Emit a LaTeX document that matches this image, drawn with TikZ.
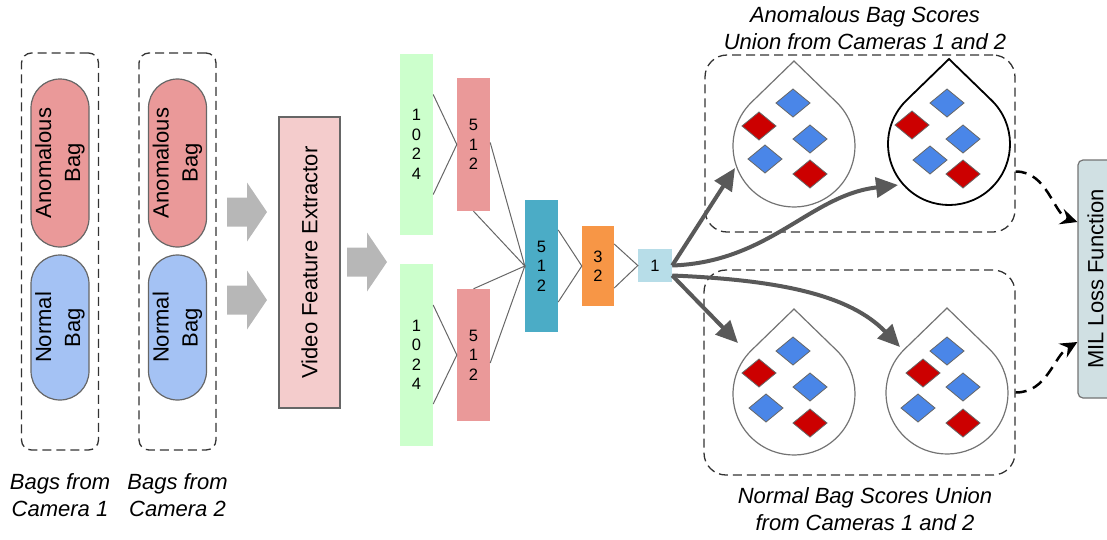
\documentclass[tikz,border=0pt]{standalone}
\usepackage{fontspec}
\setmainfont{Liberation Sans}
\usetikzlibrary{positioning, arrows.meta}

\definecolor{bagred}{HTML}{EA9999}
\definecolor{bagblue}{HTML}{A4C2F4}
\definecolor{extpink}{HTML}{F4CCCC}
\definecolor{layergreen}{HTML}{CCFFCC}
\definecolor{layerblue}{HTML}{4BACC6}
\definecolor{layerorange}{HTML}{F79646}
\definecolor{layercyan}{HTML}{B7DDE8}
\definecolor{arrowgray}{HTML}{B7B7B7}
\definecolor{scoregray}{HTML}{595959}
\definecolor{gemred}{HTML}{CC0000}
\definecolor{gemblue}{HTML}{4A86E8}
\definecolor{milcyan}{HTML}{D0E0E3}

\tikzset{
  groupbox/.style={draw=black!80, dash pattern=on 9pt off 5pt, line width=1.3pt, rounded corners=10pt},
  bagbox/.style={draw=black!60, line width=1.2pt, rotate=90, rounded corners=29pt,
    minimum height=58pt, align=center, font=\fontsize{22}{29}\selectfont},
  caption/.style={align=center, font=\fontsize{22}{27}\selectfont\itshape},
  layer/.style={minimum width=33pt, inner sep=0pt, align=center, font=\fontsize{16.5}{19.5}\selectfont},
  link/.style={draw=black!60, line width=1pt},
  scorearrow/.style={draw=scoregray, line width=4pt, -{Triangle[length=22pt,width=20pt]}},
  lossarrow/.style={draw=black, line width=2.5pt, dash pattern=on 11pt off 7pt, -{Stealth[length=17pt,width=16pt,inset=6pt]}},
  drop/.style={draw=black!55, line width=1.2pt, fill=white},
  gem/.style={draw=black!60, line width=0.8pt}
}

% gray block arrow: left end of shaft at (#1,#2)
\newcommand{\blockarrow}[2]{\fill[arrowgray] (#1,#2) ++(0,-14.5) -- ++(20,0) -- ++(0,-15)
  -- ++(20,29.5) -- ++(-20,29.5) -- ++(0,-15) -- ++(-20,0) -- cycle;}
% score bag drop: centre of the round part at (#1,#2)
\newcommand{\scoredrop}[3]{\draw[#3] (#1,#2) ++(-45.9:61) arc[start angle=-45.9, end angle=225.9, radius=61]
  -- (#1,#2-85) -- cycle;}

\begin{document}
\begin{tikzpicture}[x=1pt, y=-1pt]
  \clip (0,0) rectangle (1107,539);

  % Bags from the two cameras
  \foreach \x/\c in {60/1, 177.5/2} {
    \node[groupbox, minimum width=77pt, minimum height=397pt] (cam\c) at (\x,251.5) {};
    \node[bagbox, fill=bagred, minimum width=168pt] (anom\c) at (\x,163) {Anomalous\\Bag};
    \node[bagbox, fill=bagblue, minimum width=145pt] (norm\c) at (\x,327.5) {Normal\\Bag};
    \node[caption] (cap\c) at (\x,495) {Bags from\\Camera \c};
  }
  \blockarrow{227}{212}
  \blockarrow{227}{300}

  % Feature extractor
  \node[draw=black!60, fill=extpink, line width=1.5pt, rotate=90, minimum width=291pt,
    minimum height=61pt, font=\fontsize{22}{27}\selectfont] (vfe) at (309.5,262.5) {Video Feature Extractor};
  \blockarrow{347}{262}

  % Network layers
  \node[layer, fill=layergreen, minimum height=181pt] (in1) at (416.5,144.5) {1\\0\\2\\4};
  \node[layer, fill=layergreen, minimum height=182pt] (in2) at (416.5,355) {1\\0\\2\\4};
  \node[layer, fill=bagred, minimum height=133pt] (fc1) at (473.5,144.5) {5\\1\\2};
  \node[layer, fill=bagred, minimum height=132pt] (fc2) at (473.5,355) {5\\1\\2};
  \node[layer, fill=layerblue, minimum height=132pt] (fuse) at (541.5,266) {5\\1\\2};
  \node[layer, fill=layerorange, minimum width=32pt, minimum height=80pt] (fc3) at (598,266) {3\\2};
  \node[layer, fill=layercyan, minimum width=34pt, minimum height=33pt] (score) at (655,265.5) {1};

  \draw[link] ([yshift=50pt]in1.east) -- (fc1.west) -- ([yshift=-50pt]in1.east);
  \draw[link] ([yshift=50pt]in2.east) -- (fc2.west) -- ([yshift=-49pt]in2.east);
  \draw[link] ([yshift=2pt]fc1.east) -- (fuse.west) -- (fc1.south);
  \draw[link] (fc2.north) -- (fuse.west) -- ([yshift=-8pt]fc2.east);
  \draw[link] ([yshift=36pt]fuse.east) -- (fc3.west) -- ([yshift=-36pt]fuse.east);
  \draw[link] ([yshift=22pt]fc3.east) -- (score.west) -- ([yshift=-22pt]fc3.east);

  % Bag score unions
  \node[groupbox, rounded corners=22pt, minimum width=310pt, minimum height=177pt] (anomset) at (860,143.5) {};
  \node[groupbox, rounded corners=22pt, minimum width=311pt, minimum height=205pt] (normset) at (859.5,372.5) {};
  \node[caption] (anomcap) at (865,28) {Anomalous Bag Scores\\Union from Cameras 1 and 2};
  \node[caption] (normcap) at (865,509) {Normal Bag Scores Union\\from Cameras 1 and 2};

  \scoredrop{794}{146}{drop}
  \scoredrop{949}{144}{drop, draw=black, line width=1.8pt}
  \scoredrop{794}{394}{drop}
  \scoredrop{947}{393}{drop}
  \foreach \x/\y/\c in {793/103/gemblue, 759/126/gemred, 810/139/gemblue, 765/159/gemblue, 810/174/gemred,
      947/103/gemblue, 912/125/gemred, 963/139/gemblue, 930/160/gemblue, 963/174/gemred,
      793/351/gemblue, 759/373/gemred, 810/387/gemblue, 766/408/gemblue, 810/423/gemred,
      947/351/gemblue, 923/373/gemred, 963/387/gemblue, 918/408/gemblue, 963/423/gemred}
    \filldraw[gem, fill=\c] (\x,\y) +(-17,0) -- +(0,-14) -- +(17,0) -- +(0,14) -- cycle;

  % Scores to the bags
  \coordinate (tipUL) at (735,168);
  \coordinate (tipUR) at (898,185);
  \coordinate (tipLL) at (738,343);
  \coordinate (tipLR) at (900,347);
  \draw[scorearrow] (score.east) -- (tipUL);
  \draw[scorearrow] (score.east) .. controls (770,262) and (810,195) .. (tipUR);
  \draw[scorearrow] ([yshift=-10pt]score.east) -- (tipLL);
  \draw[scorearrow] ([yshift=-10pt]score.east) .. controls (780,280) and (850,295) .. (tipLR);

  % Loss
  \node[draw=black!55, fill=milcyan, line width=1.2pt, rounded corners=5pt, rotate=90,
    minimum width=238pt, minimum height=35pt, font=\fontsize{22}{27}\selectfont] (mil) at (1095.5,279) {MIL Loss Function};
  \draw[lossarrow] ([yshift=-28pt]anomset.east) .. controls +(32,0) and +(-24,-8) .. ([yshift=57pt]mil.north);
  \draw[lossarrow] ([yshift=-20pt]normset.east) .. controls +(32,0) and +(-24,14) .. ([yshift=-63pt]mil.north);
\end{tikzpicture}
\end{document}
